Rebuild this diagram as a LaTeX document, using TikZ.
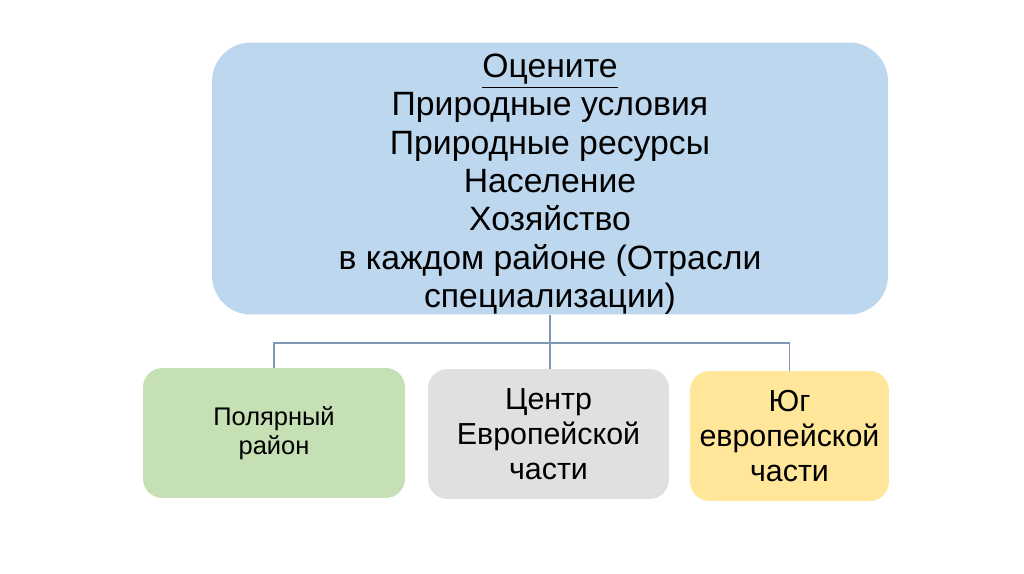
\documentclass[tikz,border=0pt]{standalone}
\usepackage{fontspec}
\setmainfont{Liberation Sans}
\usepackage{xcolor}
\usetikzlibrary{positioning}

\definecolor{topblue}{RGB}{189,215,238}
\definecolor{polargreen}{RGB}{197,224,180}
\definecolor{centergrey}{RGB}{224,224,224}
\definecolor{southyellow}{RGB}{255,230,153}
\definecolor{linkblue}{RGB}{124,152,180}

\tikzset{
  region/.style={rounded corners=11pt, align=center, inner sep=2pt,
                 minimum height=2.6cm, font=\fontsize{17.3}{20}\selectfont},
  link/.style={draw=linkblue, line width=0.8pt}
}

\begin{document}
\begin{tikzpicture}[x=0.02cm, y=-0.02cm]
            \useasboundingbox (0,0) rectangle (1024,574);
            \draw (550,178.5) node[fill=topblue, rounded corners=22pt, align=center,
                  minimum width=13.52cm, minimum height=5.34cm, inner ysep=0pt,
                  font=\fontsize{19.2}{21.8}\selectfont]            (task) {\rule{0pt}{20pt}\underline{Оцените}\\Природные условия\\Природные ресурсы\\Население\\Хозяйство\\в каждом районе (Отрасли\\специализации)};
            \draw (274,433) node[region, fill=polargreen, minimum width=5.24cm,
                  font=\fontsize{14.5}{16.5}\selectfont]          (polar) {Полярный\\район};
            \draw (548.5,434) node[region, fill=centergrey, minimum width=4.82cm] (center) {Центр\\Европейской\\части};
            \draw (789.5,436) node[region, fill=southyellow, minimum width=3.98cm] (south) {Юг\\европейской\\части};
            \coordinate (split) at (550,343);
            \draw[link] (task.south) -- (split);
            \draw[link] (split) -| (polar.north);
            \draw[link] (split) -- (split |- center.north);
            \draw[link] (split) -| (south.north);
  
            \end{tikzpicture}
\end{document}
